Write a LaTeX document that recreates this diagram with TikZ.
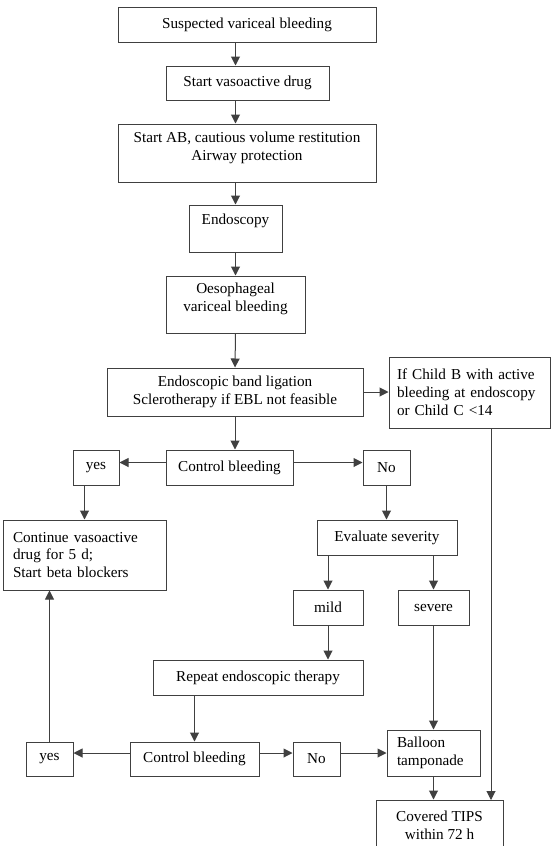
\documentclass[tikz,border=0pt]{standalone}
\usepackage{fontspec}
\setmainfont{Liberation Serif}
\usetikzlibrary{arrows.meta}

\tikzset{
  box/.style={draw=black!75, line width=1pt, inner sep=0pt, align=center,
    font=\fontsize{15.2}{17.8}\selectfont},
  lbox/.style={box, align=left, inner xsep=10pt},
  flow/.style={draw=black!75, line width=1pt, -{Triangle[length=9pt,width=9pt]}},
}

\begin{document}
\begin{tikzpicture}[x=1pt,y=-1pt]
\useasboundingbox (0,0) rectangle (556,846);
% ----- first steps -----
\node[box, minimum width=258pt, minimum height=35pt] (suspect) at (247,24.5) {Suspected variceal bleeding};
\node[box, minimum width=163pt, minimum height=34pt] (vaso) at (247.5,83) {Start vasoactive drug};
\node[box, minimum width=258pt, minimum height=58pt, text depth=14pt] (abx) at (247,153)
  {Start AB, cautious volume restitution\\Airway protection};
\node[box, minimum width=93pt, minimum height=47pt, text height=10.5pt, text depth=19pt] (endo) at (235.5,228.5) {Endoscopy};
\node[box, minimum width=139pt, minimum height=57pt, text depth=14pt] (oeso) at (235.5,304.5)
  {Oesophageal\\variceal bleeding};
\node[box, minimum width=256pt, minimum height=48pt] (ebl) at (235,392)
  {Endoscopic band ligation\\Sclerotherapy if EBL not feasible};
\node[lbox, inner xsep=8pt, text width=145pt, minimum height=71pt] (childb) at (469.5,392.5)
  {If Child B with active\\bleeding at endoscopy\\or Child C <14};
% ----- first control -----
\node[box, minimum width=127pt, minimum height=35pt] (ctrlA) at (229.5,467.5) {Control bleeding};
\node[box, minimum width=46pt, minimum height=35pt] (yesA) at (96,467.5) {yes};
\node[box, minimum width=47pt, minimum height=35pt] (noA) at (386.5,467.5) {No};
\node[lbox, text width=143pt, minimum height=70pt] (cont) at (84.5,555)
  {Continue vasoactive\\drug for 5 d;\\Start beta blockers};
\node[box, minimum width=140pt, minimum height=35pt] (sev) at (387,537.5) {Evaluate severity};
\node[box, minimum width=70pt, minimum height=35pt] (mild) at (328,607.5) {mild};
\node[box, minimum width=71pt, minimum height=35pt] (severe) at (433.5,607.5) {severe};
% ----- second control -----
\node[box, minimum width=210pt, minimum height=35pt] (rep) at (258,677.5) {Repeat endoscopic therapy};
\node[box, minimum width=129pt, minimum height=34pt] (ctrlB) at (194.5,759) {Control bleeding};
\node[box, minimum width=47pt, minimum height=34pt] (yesB) at (49.5,759) {yes};
\node[box, minimum width=47pt, minimum height=34pt] (noB) at (316.5,759) {No};
\node[lbox, text width=73pt, minimum height=46pt] (balloon) at (433.5,753) {Balloon\\tamponade};
\node[box, minimum width=127pt, minimum height=50pt] (tips) at (439.5,825) {Covered TIPS\\within 72 h};
\coordinate (tipsin) at (491,800);
% ----- connectors -----
\draw[flow] (suspect.south -| endo) -- (vaso.north -| endo);
\draw[flow] (vaso.south -| endo) -- (abx.north -| endo);
\draw[flow] (abx.south -| endo) -- (endo.north);
\draw[flow] (endo.south) -- (oeso.north);
\draw[flow] (oeso.south) -- (ebl.north);
\draw[flow] (ebl.east) -- (ebl.east -| childb.west);
\draw[flow] (ebl.south) -- (ebl.south |- ctrlA.north);
\draw[flow] ([yshift=5pt]ctrlA.west) -- ([yshift=5pt]yesA.east);
\draw[flow] ([yshift=5pt]ctrlA.east) -- ([yshift=5pt]noA.west);
\draw[flow] (yesA.south -| cont.north) -- (cont.north);
\draw[flow] (noA.south) -- (noA.south |- sev.north);
\draw[flow] (sev.south -| mild) -- (mild.north);
\draw[flow] (sev.south -| severe) -- (severe.north);
\draw[flow] (mild.south) -- (mild.south |- rep.north);
\draw[flow] (rep.south -| ctrlB.north) -- (ctrlB.north);
\draw[flow] ([yshift=6pt]ctrlB.west) -- ([yshift=6pt]yesB.east);
\draw[flow] ([yshift=6pt]ctrlB.east) -- ([yshift=6pt]noB.west);
\draw[flow] (noB.east |- balloon.west) -- (balloon.west);
\draw[flow] (yesB.north) -- (yesB.north |- cont.south);
\draw[flow] (severe.south) -- (balloon.north);
\draw[flow] (balloon.south) -- (balloon.south |- tips.north);
\draw[flow] (childb.south -| tipsin) -- (tipsin);
\end{tikzpicture}
\end{document}
